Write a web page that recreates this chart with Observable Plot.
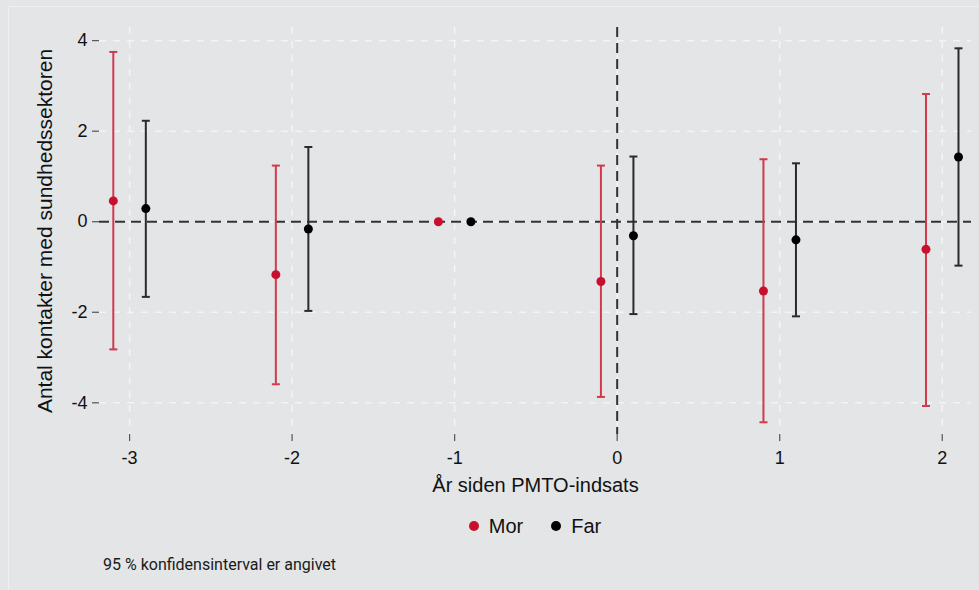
<!DOCTYPE html>
<html>
<head>
<meta charset="utf-8">
<script src="https://cdn.jsdelivr.net/npm/d3@7"></script>
<script src="https://cdn.jsdelivr.net/npm/@observablehq/plot@0.6"></script>
<style>
  html, body { margin: 0; padding: 0; background: #e3e5e7; }
  body { width: 979px; height: 590px; position: relative; overflow: hidden; font-family: "Liberation Sans", Arial, sans-serif; }
  #frame { position: absolute; left: 8px; top: 6px; right: 0; bottom: 0; border-left: 1px solid #eef0f2; border-top: 1px solid #eef0f2; }
  #chart { position: absolute; left: 0; top: 0; }
  .legend { position: absolute; top: 513px; left: 0; width: 979px; display: flex; justify-content: center; padding-left: 91px; box-sizing: border-box; font-size: 20px; color: #111; line-height: 26px; }
  .legend .item { display: flex; align-items: center; margin: 0 14px; }
  .legend .sw { width: 10px; height: 10px; border-radius: 50%; margin-right: 10px; }
  .caption { position: absolute; left: 103px; top: 555px; font-family: Roboto, "Liberation Sans", sans-serif; font-size: 16px; color: #1a1a1a; }
</style>
</head>
<body>
<div id="frame"></div>
<div id="chart"></div>
<div class="legend" id="legend"></div>
<div class="caption">95 % konfidensinterval er angivet</div>
<script>
// ---- data ----
const years = [-3, -2, -1, 0, 1, 2];
const morEst = [0.46, -1.17, 0, -1.32, -1.53, -0.61];
const morLo  = [-2.82, -3.59, null, -3.87, -4.43, -4.07];
const morHi  = [3.75, 1.24, null, 1.24, 1.38, 2.82];
const farEst = [0.29, -0.16, 0, -0.31, -0.40, 1.43];
const farLo  = [-1.66, -1.97, null, -2.04, -2.09, -0.97];
const farHi  = [2.23, 1.65, null, 1.44, 1.29, 3.83];
const xTicks = [-3, -2, -1, 0, 1, 2];
const yTicks = [-4, -2, 0, 2, 4];
const xTitle = "År siden PMTO-indsats";
const yTitle = "Antal kontakter med sundhedssektoren";
const seriesNames = ["Mor", "Far"];
const pointColors = ["#c8102e", "#000000"];
const barColors = ["#d03a4c", "#2a2a2a"];
const dodge = 0.1;

const series = [
  {name: seriesNames[0], off: -dodge, est: morEst, lo: morLo, hi: morHi, pc: pointColors[0], bc: barColors[0]},
  {name: seriesNames[1], off: dodge, est: farEst, lo: farLo, hi: farHi, pc: pointColors[1], bc: barColors[1]}
];

const capSymbol = { draw(ctx) { ctx.moveTo(-4, 0); ctx.lineTo(4, 0); } };

const seriesMarks = series.flatMap(s => {
  const rows = years.map((yr, i) => ({x: yr + s.off, est: s.est[i], lo: s.lo[i], hi: s.hi[i]}));
  const ci = rows.filter(d => d.lo != null);
  return [
    Plot.ruleX(ci, {x: "x", y1: "lo", y2: "hi", stroke: s.bc, strokeWidth: 2}),
    Plot.dot(ci, {x: "x", y: "hi", symbol: capSymbol, fill: "none", stroke: s.bc, strokeWidth: 2}),
    Plot.dot(ci, {x: "x", y: "lo", symbol: capSymbol, fill: "none", stroke: s.bc, strokeWidth: 2}),
    Plot.dot(rows, {x: "x", y: "est", r: 4.5, fill: s.pc, stroke: "none"})
  ];
});

const fmt = d => String(d);

const chart = Plot.plot({
  width: 979,
  height: 500,
  marginTop: 27,
  marginBottom: 66,
  marginLeft: 99,
  marginRight: 8,
  style: {background: "transparent", fontFamily: "'Liberation Sans', Arial, sans-serif", fontSize: "18px", color: "#111", overflow: "visible"},
  x: {domain: [-3.185, 2.18], label: null},
  y: {domain: [-4.7, 4.29], label: null},
  marks: [
    Plot.ruleY(yTicks, {stroke: "#f3f4f5", strokeWidth: 1.5, strokeDasharray: "7,7"}),
    Plot.ruleX(xTicks, {stroke: "#f3f4f5", strokeWidth: 1.5, strokeDasharray: "7,7"}),
    Plot.ruleY([0], {stroke: "#333", strokeWidth: 2, strokeDasharray: "10,6"}),
    Plot.ruleX([0], {stroke: "#333", strokeWidth: 2, strokeDasharray: "10,6"}),
    Plot.axisX({ticks: xTicks, tickFormat: fmt, tickSize: 7, tickPadding: 10, stroke: "#555", strokeWidth: 1.2, fontSize: 18, fill: "#111", label: null, line: true}),
    Plot.axisY({ticks: yTicks, tickFormat: fmt, tickSize: 7, tickPadding: 5, stroke: "#555", strokeWidth: 1.2, fontSize: 18, fill: "#111", label: null, line: true}),
    Plot.text([xTitle], {text: d => d, frameAnchor: "bottom", dy: 51, fontSize: 20, fill: "#111", lineAnchor: "middle", textAnchor: "middle"}),
    Plot.text([yTitle], {text: d => d, frameAnchor: "left", dx: -54, rotate: -90, fontSize: 21, fill: "#111", lineAnchor: "middle", textAnchor: "middle"}),
    ...seriesMarks
  ]
});
document.getElementById("chart").appendChild(chart);

const legend = document.getElementById("legend");
series.forEach(s => {
  const item = document.createElement("div");
  item.className = "item";
  item.innerHTML = `<span class="sw" style="background:${s.pc}"></span><span>${s.name}</span>`;
  legend.appendChild(item);
});
</script>
</body>
</html>
